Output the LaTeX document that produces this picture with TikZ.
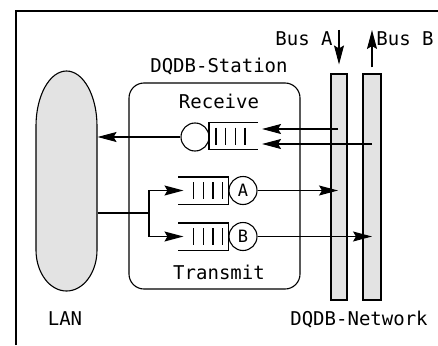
\documentclass[tikz,border=0pt]{standalone}
\usepackage{fontspec}
\setmonofont{DejaVu Sans Mono}
\usetikzlibrary{arrows.meta,calc}
\begin{document}
\begin{tikzpicture}[x=1pt,y=-1pt,line width=1.1pt,
  lbl/.style={font=\ttfamily\fontsize{19}{21}\selectfont,inner sep=0},
  arr/.style={-{Stealth[length=19pt,width=10pt,inset=3pt]}},
  stip/.style={fill=black!11},
  ring/.style={circle,draw,minimum size=28pt,inner sep=0,font=\ttfamily\fontsize{17}{18}\selectfont},
  qbox/.style={minimum width=49pt,minimum height=26pt,inner sep=0},
  bar/.style={line width=1.3pt}]
\useasboundingbox (0,0) rectangle (438,345);
% frame
\draw (16,345) -- (16,11) -- (438,11);
% LAN
\node[minimum width=61pt,minimum height=220pt,inner sep=0] (lan) at (66.5,181) {};
\draw[stip] (36,126) arc[start angle=180,end angle=360,x radius=30.5,y radius=55]
  -- (97,250) arc[start angle=0,end angle=180,x radius=30.5,y radius=41] -- cycle;
\node[lbl] (lanl) at (65,319) {LAN};
% station
\node[draw,rounded corners=15pt,minimum width=171pt,minimum height=206pt,inner sep=0] (st) at (214.5,186) {};
\node[lbl] (stl) at (219,67) {DQDB-Station};
\node[lbl] (rcv) at (219,101) {Receive};
\node[lbl] (trm) at (219,272) {Transmit};
% buses
\node[draw,stip,minimum width=16pt,minimum height=226pt,inner sep=0] (busa) at (339,187) {};
\node[draw,stip,minimum width=18pt,minimum height=226pt,inner sep=0] (busb) at (372,187) {};
\node[lbl] (bal) at (304,39) {Bus A};
\node[lbl] (bbl) at (405,39) {Bus B};
\node[lbl] (net) at (359,320) {DQDB-Network};
\coordinate (at) at (339,30);
\coordinate (bt) at (372,30);
\draw[arr] (at) -- ($(busa.north)+(0,-9)$);
\draw[arr] ($(busb.north)+(0,-6)$) -- (bt);
% receive queue
\node[ring] (rc) at (195,137) {};
\node[qbox,minimum width=48pt] (rq) at (233.5,136) {};
\draw (rq.north east) -- (rq.north west) -- (rq.south west) -- (rq.south east);
\foreach \i in {0,...,3} \draw[bar] ($(rq.west)+(7+\i*9.7,-8.5)$) -- ++(0,17);
% transmit queues
\node[qbox] (tqa) at (203.5,190.5) {};
\node[ring] (ca) at (243,190.5) {A};
\node[qbox] (tqb) at (203.5,236.5) {};
\node[ring] (cb) at (243,236.5) {B};
\foreach \q in {tqa,tqb} {
  \draw (\q.north west) -- (\q.north east) -- (\q.south east) -- (\q.south west);
  \foreach \i in {0,...,3} \draw[bar] ($(\q.east)+(-6-\i*9.7,-8.5)$) -- ++(0,17);
}
% receive connectors
\coordinate (r1) at (338,129);
\coordinate (r2) at (372,144);
\draw[arr] (r1) -- ($(r1 -| rq.east)+(4,0)$);
\draw[arr] (r2) -- ($(r2 -| rq.east)+(4,0)$);
\draw[arr] (rc.west) -- (rc.west -| lan.east);
% transmit connectors
\coordinate (br) at (149,213);
\draw (br -| lan.east) -- (br);
\draw[arr] (br) |- ($(tqa.west)+(5,0)$);
\draw[arr] (br) |- ($(tqb.west)+(5,0)$);
\draw[arr] (ca.east) -- ($(ca.east -| busa.center)+(-1,0)$);
\draw[arr] (cb.east) -- (cb.east -| busb.center);
\end{tikzpicture}
\end{document}
